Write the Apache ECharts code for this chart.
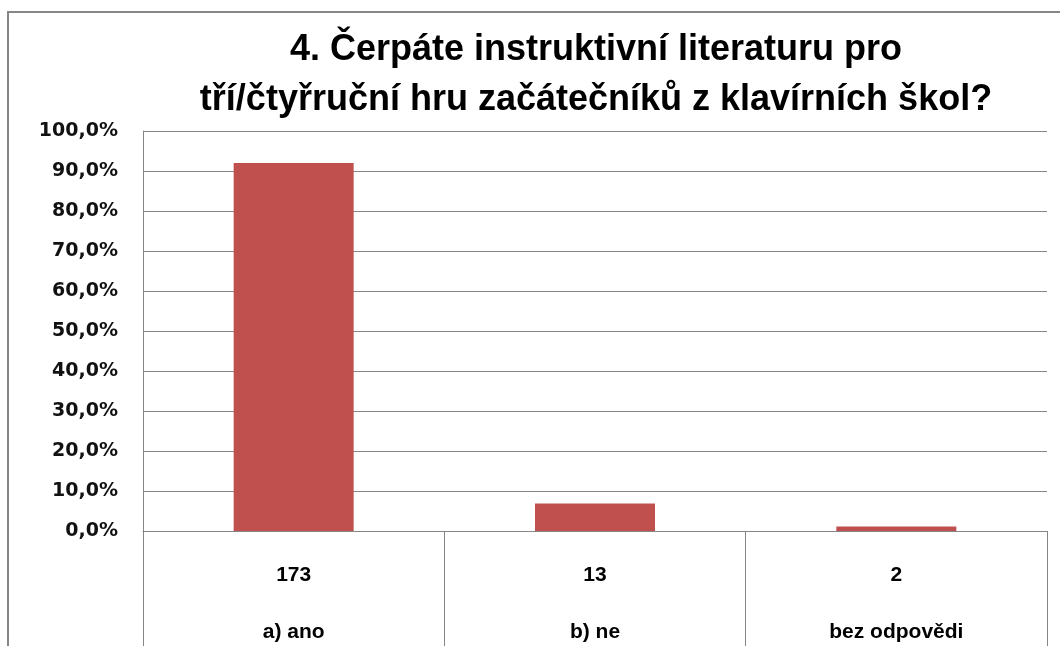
<!DOCTYPE html>
<html>
<head>
<meta charset="utf-8">
<script src="https://cdn.jsdelivr.net/npm/echarts@6/dist/echarts.min.js"></script>
<style>
  html, body { margin: 0; padding: 0; background: #fff; }
  #chart { width: 1060px; height: 646px; }
</style>
</head>
<body>
<div id="chart"></div>
<script>
// odpovědi
const categories = ['a) ano', 'b) ne', 'bez odpovědi']
const counts = [173, 13, 2]
// podíl v %
const shares = [92.0, 6.9, 1.1]

const chart = echarts.init(document.getElementById('chart'))

const gridColor = '#868686'
const narrow = '"Liberation Sans Narrow", "Liberation Sans", sans-serif'

const option = {
  animation: false,
  title: {
    text: '4. Čerpáte instruktivní literaturu pro\ntří/čtyřruční hru začátečníků z klavírních škol?',
    left: 591,
    top: 20,
    textAlign: 'center',
    textStyle: {
      fontFamily: narrow,
      fontWeight: 'bold',
      fontSize: 36,
      lineHeight: 50,
      color: '#000',
    },
  },
  // rámeček grafu
  graphic: [
    {
      type: 'rect',
      shape: { x: 8, y: 12, width: 1200, height: 800 },
      style: { fill: 'none', stroke: gridColor, lineWidth: 2 },
      silent: true,
    },
  ],
  grid: {
    left: 143,
    right: 13,
    top: 131,
    bottom: 115,
  },
  xAxis: {
    type: 'category',
    data: categories,
    axisLine: { show: true, lineStyle: { color: gridColor, width: 1 } },
    axisTick: {
      show: true,
      interval: 0,
      length: 115,
      lineStyle: { color: gridColor, width: 1 },
    },
    axisLabel: {
      interval: 0,
      margin: 16,
      formatter: function (val, i) {
        return '{n|' + counts[i] + '}\n{c|' + val + '}'
      },
      rich: {
        n: { fontFamily: narrow, fontWeight: 'bold', fontSize: 21, lineHeight: 57, color: '#000' },
        c: { fontFamily: narrow, fontWeight: 'bold', fontSize: 21, lineHeight: 57, color: '#000' },
      },
    },
  },
  yAxis: {
    type: 'value',
    min: 0,
    max: 100,
    interval: 10,
    axisLine: { show: true, lineStyle: { color: gridColor, width: 1 } },
    axisTick: { show: false },
    splitLine: { show: true, lineStyle: { color: gridColor, width: 1 } },
    axisLabel: {
      margin: 25,
      fontFamily: '"DejaVu Sans", sans-serif',
      fontWeight: 'bold',
      fontSize: 19,
      color: '#111',
      formatter: function (v) {
        return v.toFixed(1).replace('.', ',') + '%'
      },
    },
  },
  series: [
    {
      type: 'bar',
      data: shares,
      barWidth: 120,
      itemStyle: { color: '#C0504D' },
    },
  ],
}

chart.setOption(option)
</script>
</body>
</html>
